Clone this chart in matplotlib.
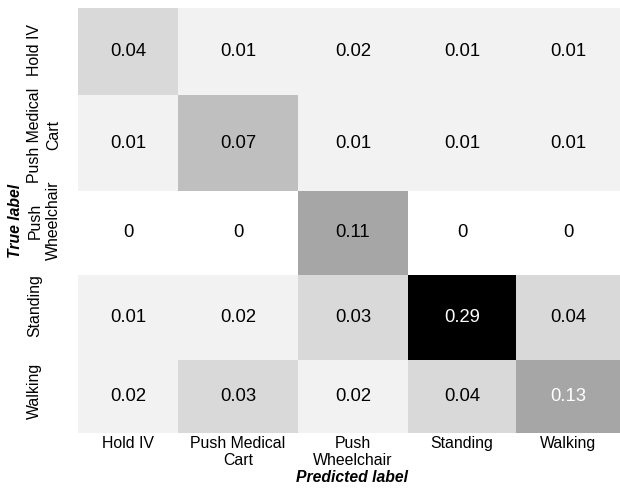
import numpy as np
import matplotlib
matplotlib.use("Agg")
import matplotlib.pyplot as plt
from matplotlib.colors import ListedColormap, BoundaryNorm

# Confusion matrix (row = true label, column = predicted label)
x_labels = ["Hold IV", "Push Medical\nCart", "Push\nWheelchair", "Standing", "Walking"]
y_labels = ["Hold IV", "Push Medical\nCart", "Push\nWheelchair", "Standing", "Walking"]
cm = np.array([
    [0.04, 0.01, 0.02, 0.01, 0.01],
    [0.01, 0.07, 0.01, 0.01, 0.01],
    [0.00, 0.00, 0.11, 0.00, 0.00],
    [0.01, 0.02, 0.03, 0.29, 0.04],
    [0.02, 0.03, 0.02, 0.04, 0.13],
])

# Stepped grey scale
level_colors = ["#ffffff", "#f2f2f2", "#d9d9d9", "#bfbfbf", "#a6a6a6", "#000000"]
level_bounds = [0, 0.005, 0.025, 0.05, 0.09, 0.2, 0.3]
cmap = ListedColormap(level_colors)
norm = BoundaryNorm(level_bounds, cmap.N)

# Cell edges of the grid (axis units)
col_edges = np.array([0, 0.9225, 2.0295, 3.0443, 4.0406, 5.0])
row_edges = np.array([0, 1.0235, 2.153, 3.141, 4.141, 5.0])

plt.rcParams["font.family"] = ["Liberation Sans", "DejaVu Sans"]

fig = plt.figure(figsize=(6.2, 4.88), dpi=100)
ax = fig.add_axes([78 / 620, 55 / 488, 542 / 620, 425 / 488])

ax.pcolormesh(col_edges, row_edges, cm, cmap=cmap, norm=norm)
ax.set_xlim(0, 5)
ax.set_ylim(5, 0)

col_mid = (col_edges[:-1] + col_edges[1:]) / 2
row_mid = (row_edges[:-1] + row_edges[1:]) / 2
for i in range(cm.shape[0]):
    for j in range(cm.shape[1]):
        v = cm[i, j]
        ax.text(col_mid[j], row_mid[i], f"{v:.2g}", ha="center", va="center",
                fontsize=13.3, color="white" if v > 0.12 else "black")

for s in ax.spines.values():
    s.set_visible(False)

ax.set_xticks(col_mid)
ax.set_xticklabels(x_labels, fontsize=11.4, linespacing=1.1)
ax.set_yticks(np.arange(5) + 0.5)
ax.set_yticklabels(y_labels, fontsize=11.4, rotation=90, linespacing=1.3,
                   va="center", ha="left", multialignment="center")
ax.tick_params(axis="x", length=0, pad=2.5)
ax.tick_params(axis="y", length=0, pad=36.5)

ax.set_xlabel("Predicted label", fontsize=11.3, fontweight="bold", fontstyle="italic")
ax.set_ylabel("True label", fontsize=11.3, fontweight="bold", fontstyle="italic")
ax.xaxis.set_label_coords(0.5055, -0.088)
ax.yaxis.set_label_coords(-0.102, 0.5)

fig.savefig("out.png", dpi=100)
